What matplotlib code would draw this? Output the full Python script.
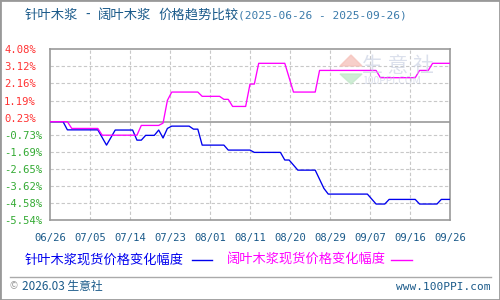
import numpy as np
import matplotlib
matplotlib.use("Agg")
import matplotlib.pyplot as plt
from matplotlib.lines import Line2D

plt.rcParams['font.family'] = ['Noto Sans CJK SC', 'DejaVu Sans']

# ---- data (day offset from 2025-06-26, % change) ----
soft_days = [0, 3, 4, 11, 13, 15, 19, 20, 21, 22, 24, 25, 26, 27, 28, 32, 33, 34, 35, 40, 41, 46, 47,
             53, 54, 55, 57, 61, 63, 64, 73, 75, 77, 78, 84, 85, 89, 90, 92]
soft_vals = [0, 0, -0.46, -0.46, -1.32, -0.47, -0.47, -1.04, -1.04, -0.77, -0.77, -0.47, -0.92, -0.38,
             -0.25, -0.25, -0.42, -0.42, -1.32, -1.32, -1.60, -1.60, -1.73, -1.73, -2.16, -2.16, -2.73,
             -2.73, -3.76, -4.08, -4.08, -4.64, -4.64, -4.38, -4.38, -4.64, -4.64, -4.38, -4.38]

hard_days = [0, 4, 5, 11, 12, 20, 21, 25, 26, 27, 28, 34, 35, 39, 40, 41, 42, 45, 46, 47, 48, 54, 56,
             61, 62, 75, 76, 84, 85, 87, 88, 92]
hard_vals = [0, 0, -0.38, -0.38, -0.76, -0.76, -0.21, -0.21, -0.08, 1.20, 1.67, 1.67, 1.43, 1.43, 1.26,
             1.26, 0.86, 0.86, 2.12, 2.12, 3.29, 3.29, 1.67, 1.67, 2.89, 2.89, 2.48, 2.48, 2.89, 2.89,
             3.29, 3.29]

x_labels = ['06/26', '07/05', '07/14', '07/23', '08/01', '08/11', '08/20', '08/29', '09/07', '09/16', '09/26']
y_ticks = [4.08, 3.12, 2.16, 1.19, 0.23, -0.73, -1.69, -2.65, -3.62, -4.58, -5.54]

title_a = '针叶木浆'
title_b = '阔叶木浆'
title_c = '价格趋势比较'
title_dates = '(2025-06-26 - 2025-09-26)'
soft_name = '针叶木浆现货价格变化幅度'
hard_name = '阔叶木浆现货价格变化幅度'

# ---- figure ----
W, H = 500, 300
fig = plt.figure(figsize=(W / 100, H / 100), dpi=100)
fig.patch.set_facecolor('white')

def fx(px):
    return px / W

def fy(py):
    return 1 - py / H

ax = fig.add_axes([fx(50), fy(220), fx(450) - fx(50), fy(49.3) - fy(220)])
ax.set_xlim(0, 92)
ax.set_ylim(-5.54, 4.08)

grid_c = '#c8c8c8'
xt = np.linspace(0, 92, 11)
for x in xt[1:-1]:
    ax.axvline(x, color=grid_c, lw=0.8, ls=(0, (3, 2)), zorder=1)
for y in y_ticks[1:-1]:
    if y == 0.23:
        continue
    ax.axhline(y, color=grid_c, lw=0.8, ls=(0, (3, 2)), zorder=1)
ax.axhline(0, color='#999999', lw=1.2, zorder=1.5)

ax.plot(soft_days, soft_vals, color='#0000ee', lw=0.95, zorder=3)
ax.plot(hard_days, hard_vals, color='#ff00ff', lw=0.95, zorder=3)

for s in ax.spines.values():
    s.set_color('#999999')
    s.set_linewidth(1.2)

ax.set_xticks(xt)
ax.set_xticklabels(x_labels, family='DejaVu Sans Mono', fontsize=7.6, color='#1a5a8a')
ax.set_yticks(y_ticks)
ax.set_yticklabels(['%.2f%%' % v for v in y_ticks], family='DejaVu Sans Mono', fontsize=7.6)
for lab, v in zip(ax.get_yticklabels(), y_ticks):
    lab.set_color('#ff3333' if v > 0 else '#33aa33')
    lab.set_horizontalalignment('left')
ax.tick_params(axis='y', length=0, pad=33)
ax.tick_params(axis='x', length=0, pad=9)

# watermark
fig.text(fx(398), fy(66), '生 意 社', fontsize=15, color='#c4cce0', alpha=0.6,
         ha='center', va='center', zorder=0)
fig.text(fx(392), fy(81), '100PPI.COM', fontsize=7.5, color='#c4cce0', alpha=0.6,
         ha='center', va='center', zorder=0)
tri_up = plt.Polygon([[fx(340), fy(66)], [fx(362), fy(66)], [fx(351), fy(55)]],
                     closed=True, transform=fig.transFigure, color='#f6c4bd', alpha=0.8, zorder=0)
tri_dn = plt.Polygon([[fx(340), fy(74)], [fx(362), fy(74)], [fx(351), fy(84)]],
                     closed=True, transform=fig.transFigure, color='#c4e8cb', alpha=0.8, zorder=0)
fig.patches.extend([tri_up, tri_dn])

# title
tc = '#1a5a8a'
fig.text(fx(25), fy(15), title_a, fontsize=9.6, color=tc, ha='left', va='center')
fig.text(fx(87.5), fy(15), '-', fontsize=9.6, color=tc, ha='center', va='center')
fig.text(fx(98), fy(15), title_b, fontsize=9.6, color=tc, ha='left', va='center')
fig.text(fx(158), fy(15), title_c, fontsize=9.6, color=tc, ha='left', va='center')
fig.text(fx(238), fy(15.5), title_dates, fontsize=8, color='#3a7aaa', ha='left', va='center',
         family='DejaVu Sans Mono')

# legend
fig.text(fx(25), fy(260), soft_name, fontsize=9.5, color='#0000ee', ha='left', va='center')
fig.lines.append(Line2D([fx(192), fx(212)], [fy(260), fy(260)], transform=fig.transFigure,
                        color='#0000ee', lw=1.0))
fig.text(fx(227), fy(260), hard_name, fontsize=9.5, color='#ff00ff', ha='left', va='center')
fig.lines.append(Line2D([fx(391), fx(412)], [fy(260), fy(260)], transform=fig.transFigure,
                        color='#ff00ff', lw=1.0))

# footer
fig.lines.append(Line2D([fx(10), fx(491)], [fy(276.5), fy(276.5)], transform=fig.transFigure,
                        color='#aaaaaa', lw=1.0))
fig.text(fx(10), fy(286.5), '©', fontsize=7, color='#999999', ha='left', va='center')
fig.text(fx(22), fy(286.5), '2026.03 生意社', fontsize=8.5, color='#1a5a8a', ha='left', va='center')
fig.text(fx(490), fy(286.5), 'www.100PPI.com', fontsize=8, color='#1a5a8a', ha='right', va='center',
         family='DejaVu Sans Mono')

# outer border
fig.patches.append(plt.Rectangle((0, 0), 1, 1, transform=fig.transFigure, fill=False,
                                 edgecolor='#999999', lw=2.0))

fig.savefig('out.png', dpi=100)
